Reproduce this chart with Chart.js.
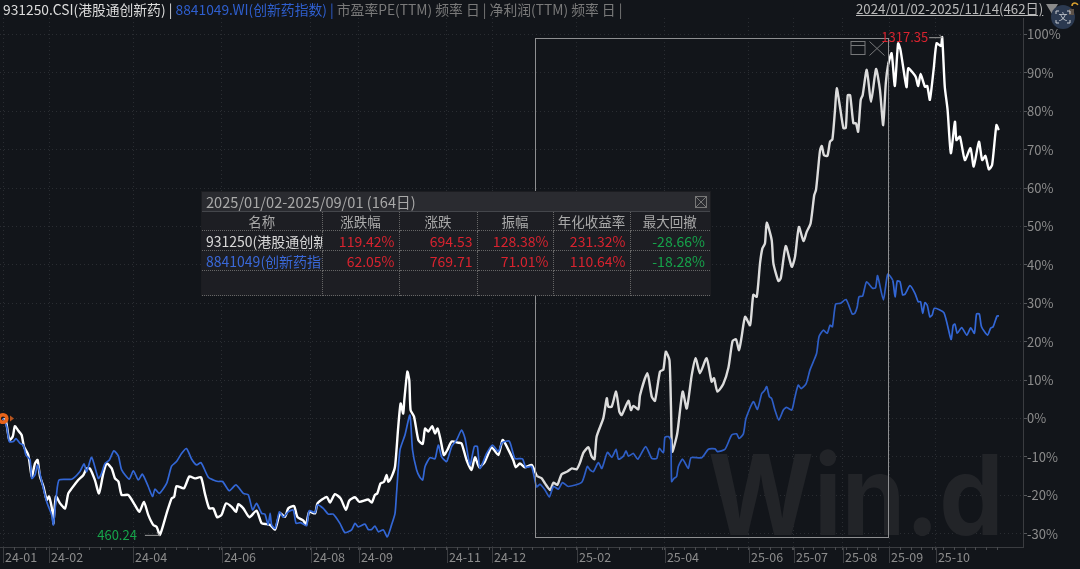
<!DOCTYPE html>
<html>
<head>
<meta charset="utf-8">
<title>931250 vs 8841049</title>
<script src="https://cdn.jsdelivr.net/npm/chart.js@4"></script>
<style>
  html, body { margin: 0; padding: 0; background: #12151a; overflow: hidden; }
  body { width: 1080px; height: 569px; position: relative; font-family: "Noto Sans CJK SC", sans-serif; }
  canvas { position: absolute; left: 0; top: 0; }
  .head { position: absolute; top: -1px; line-height: 20px; white-space: nowrap; }
  #headLeft { left: 3px; font-size: 13.8px; color: #7a7a7a; }
  #headRight { left: 856px; font-size: 13.25px; color: #b9b9b9; text-decoration: underline; }
  #panel { position: absolute; left: 202px; top: 192px; width: 508px; height: 103px; background: #2a2b30; box-shadow: 0 0 0 1px #1c1d21; }
  #panelTitle { position: absolute; left: 4px; top: 0; font-size: 14.6px; line-height: 20px; color: #a9a9a9; }
  #panelClose { position: absolute; left: 493px; top: 4px; width: 10px; height: 10px; border: 1px solid #777; background:
    linear-gradient(45deg, transparent 47%, #777 47%, #777 53%, transparent 53%),
    linear-gradient(-45deg, transparent 47%, #777 47%, #777 53%, transparent 53%); }
  #panelTable { position: absolute; left: 0; top: 19px; width: 508px; height: 84px; border-collapse: collapse; table-layout: fixed; background: #1d1e23; font-size: 14px; }
  #panelTable td { padding: 0 4px 0 4px; border-right: 1px dotted #666; border-bottom: 1px dotted #666; overflow: hidden; white-space: nowrap; line-height: 18px; text-align: right; }
  #panelTable td:last-child { border-right: none; padding-right: 5px; }
  #panelTable tr:first-child td { border-top: 1px solid #44464b; color: #a9a9a9; text-align: center; font-size: 13.5px; }
  #panelTable td.name { text-align: left; padding-right: 0; text-overflow: clip; }
</style>
</head>
<body>
<canvas id="chart" width="1080" height="569"></canvas>
<div class="head" id="headLeft"></div>
<div class="head" id="headRight"></div>
<div id="panel">
  <div id="panelTitle"></div>
  <div id="panelClose"></div>
  <table id="panelTable"></table>
</div>
<script>
// ====== DATA ======
const whiteDays = [0,1.4,2.9,4.5,5.5,7.1,8.6,9.7,11.7,13.3,14.8,16,17.1,18.7,20.2,21.3,23,23.3,24.5,26.4,28.7,30.2,31.8,34.8,37.2,38.7,40.2,42.5,44.4,46.4,48,50.3,51.8,53.4,54.9,58,61,63.1,65.2,67.2,69.5,71.1,72.6,75.7,78,79.2,80.3,83.7,86.2,88.8,91.6,93.4,95.4,97.3,99.1,101.1,103.2,105.8,107.8,108.9,111.2,114,117.3,119.7,122,
  123.6,125.9,128.2,130.5,132,134.7,136.2,139,140.2,141.7,144.4,145.5,149.8,151.3,153.6,156.2,158.7,160.2,162.9,164.9,169,170.6,172.1,173.2,174.7,176.3,177.5,178.3,179.8,181.4,182.9,184,185.2,185.7,187.1,188,188.6,190.2,192.2,194.2,195.3,196.8,198.6,199.9,201.1,202.5,204,205.6,207.6,210.7,212.2,214.5,216.8,218.4,220.4,223,226.1,229.2,231.2,233.3,236.1,237.3,239.2,241.5,
  244.7,247,249.3,250.8,253.2,254.7,256.5,258.5,261.2,263.2,265.5,267,268.6,270.9,272.4,273.7,274.7,277.8,279.4,280.1,281.7,283.7,285.2,286.3,289.4,290.6,291.7,294,294.8,298.2,300.2,301.7,304,305.6,306.7,308.4,309.1,309.7,312,314.5,316.4,318.7,320.5,322.5,325.6,327.9,329,330.6,333.3,335.7,337.6,339.2,340.6,341.8,343.4,345.7,347.2,348.8,350.3,351.4,352.6,353.4,355.7,356.5,358.8,359.9,362.2,365,366.5,368.3,370.4,371.9,373.7,375.4,376.2,377.3,378.1,378.9,379.9,381.5,382.7,383.8,385,385.8,387.3,388.9,390,390.9,392,393.5,394.7,395.7,396.9,397.8,399.7,401.7,404,405.8,407.3,408.5,409.6,411.2,412.7,414.2,415.3,418.1,418.9,421.2,422.4,423.5,424.6,426.6,427.7,428.9,430.7,432,434,434.6,435.8,437.1,438.6,440.5,441.2,442.8,445.1,447.7,449.2,451.6,453.1,454.6,456.2,457.7,459.7,460.8];
const whiteValues = [0,-0.8,-5.6,-4.7,-2,-3.2,-4.3,-7.3,-9.5,-15.1,-11.7,-10.8,-15.1,-17.7,-21.2,-20.3,-24.7,-27.3,-20.3,-22.1,-23.4,-19.5,-18.2,-16,-14.7,-13,-13,-16,-19.5,-14.3,-11.7,-13,-15.6,-16.4,-19.9,-19.9,-22.5,-24.3,-21.7,-25.1,-27.7,-28.2,-30.3,-24.7,-20.8,-20.4,-17.6,-18.2,-15.1,-15.6,-15.3,-19.5,-23.4,-23.4,-25.7,-25.1,-22.1,-23,-24.3,-22.3,-23.4,-25.7,-24,-27.3,-27.5,
  -27.7,-28.9,-24.7,-25.6,-23.4,-22.8,-25.6,-26.6,-27.7,-24.3,-24.7,-22.1,-20.4,-21.9,-19.7,-20.8,-23.8,-21.4,-20.5,-21.7,-21.1,-21.9,-19.9,-19.5,-16.9,-16.5,-14.7,-16.5,-15.2,-12.5,-2.1,3.9,1.3,4.8,12.2,10,2.2,0.5,-5.6,-6.6,-2.6,-3.4,-2,-3.9,-2.6,-5.6,-9.5,-8.2,-6,-6.3,-6.5,-10.8,-13.4,-10.1,-12.7,-11.2,-7.5,-9.5,-5.6,-7.5,-10.8,-12.7,-11.7,-12.7,
  -12.1,-14.9,-15.6,-16.9,-18.6,-16.7,-17.3,-14.5,-13.8,-13,-13.2,-11.5,-8.9,-7.5,-9.9,-10.6,-4.7,0.1,5.3,3.1,3.1,7,1.8,0.9,4.6,2.2,3.3,2.4,6.1,11.8,5.7,4.6,12.2,12.8,17.4,15.2,3.1,-8.6,-3.9,7,2.6,11.3,15.7,11.8,15.7,9.6,10.5,7,9,13.3,20.2,20.6,17.8,21.3,26.5,24.3,32.2,31.7,40.4,44.3,45.6,51,46.5,40.4,35.8,36.5,44.9,39.5,42.1,49.9,46.2,48.6,50.8,58.2,59.5,65.6,69.9,71,68.6,68.4,72.1,72.7,80.3,86,81.2,75.6,75.7,84.2,84.2,76.9,76.9,74.7,83,84.2,90.8,82.5,91,85.6,76.4,87.3,92.1,95.1,86.6,97.7,96,86.3,91.2,89.9,88.9,86.6,89.7,86.4,86.6,83,91.2,97.7,97,99.3,86.4,80.4,69.1,77.3,72.5,73.4,67.3,70.4,65.6,72.1,67.3,68.4,64.9,66,76.4,75.1];
const blueDays = [0,1.7,2.9,4.8,6,7.9,9.4,10.6,12.5,13.3,14.8,16,17.9,20.2,22.5,23.3,24.8,26,31.8,35.6,37.5,38.7,41,44.1,45.3,47.2,49.2,51.3,53.4,54.9,58.4,60.3,62.6,64.5,67.2,69.2,70.3,72.3,75.7,78,80.3,82.6,84.9,87.3,89.6,91.6,95,97.3,99.6,101.6,104.7,107.8,111.2,113.5,115.5,117.3,119.7,121.2,122.7,123.6,124.3,125.9,127.9,129.7,132,134.3,135.6,137.7,140.5,141.7,144.4,145.5,148.2,150.5,152.8,155.9,158.2,161.3,162.9,164.4,167.5,169,170.6,172.1,173.7,176,177.8,179.8,181.4,182.1,183.7,186,188.3,189.5,191.4,192.9,194.2,195.3,197.6,199.9,201.4,203,205.3,207.6,209.9,212.2,213.8,216.1,218.1,219.5,220.7,223.8,226.5,229.2,231,234.3,236.9,240.4,241.9,244.6,246.9,248.5,250.8,252.8,254.7,257,258.9,261.6,267.8,270.4,271.7,273.2,275.5,277.1,279.7,281.7,283.7,284.8,287.1,288.3,289.4,291.7,293.7,297.4,300.2,302.5,303.7,305.6,306.3,307.9,309,309.4,310.5,311.7,312.5,314.5,317.1,318.4,323.3,326.4,329.5,330.6,334.1,337.2,339.5,340.6,342.6,343.8,347.2,349.1,351.1,352.3,353.4,354.6,355.7,357.2,359,361.1,362.6,365,366.5,368,369.3,371.6,373.4,375,376.5,377.6,379.6,381.4,382.7,383.8,385.3,387.6,390.1,393,394.2,395.3,396.1,397.8,399.6,402.4,403.8,404.7,407.4,409.4,411.7,412.8,413.8,415.1,416.3,417.4,419.7,422,423.5,424.6,425.6,426.6,427.7,428.9,430,431,435.4,438.7,439.7,440.5,441.6,443.6,446,447.8,449.5,450.5,451.8,452.8,455.6,457,458.2,460,460.9];
const blueValues = [0,-2.1,-6,-6,-5.2,-6.5,-6.9,-9.5,-10.8,-15.6,-14.7,-12.1,-16.4,-21.7,-25.1,-27.7,-19.5,-16,-15.8,-13.8,-11.8,-13.8,-10.1,-15.6,-14.7,-11.7,-10.8,-8.4,-9.8,-13.4,-15.8,-13.6,-16,-14.5,-17.7,-20.3,-18.4,-19.5,-16.9,-12.4,-11.2,-9.1,-7.8,-10.6,-12.1,-11.5,-15.3,-16,-16.4,-16.4,-18.8,-17.3,-19.5,-19.9,-23.8,-22.1,-24.7,-24.9,-27.7,-24.7,-27.7,-28.6,-24.3,-25.7,-24.3,-23.8,-27.3,-27.1,-27.9,-24,-24.5,-22.5,-23.4,-24.9,-24.9,-27.3,-29.7,-29,-27.3,-28.2,-27.5,-28.9,-28.9,-28,-29.5,-29,-30.8,-27.7,-24.7,-19.5,-8.2,-4.3,0.9,-8.2,-13.4,-15.3,-16,-12.5,-10.2,-10.5,-6.9,-10,-11.2,-7.3,-5.6,-3,-5.2,-12.1,-7.3,-7.3,-13,-9.1,-6.9,-8.6,-6.3,-5.9,-10.4,-10.5,-12.7,-12.5,-17.8,-17.1,-18.6,-20.4,-17.7,-18.4,-16.7,-17.7,-16.6,-12.5,-13.4,-13.8,-11.5,-13,-8.8,-10.1,-8,-10.6,-9.8,-8.4,-9.8,-9.1,-10.6,-7.3,-10.4,-10.4,-7.8,-8.9,-4.9,-4.7,-5.6,-16.4,-15.6,-15.1,-12.5,-10.6,-13,-10.2,-10.2,-8,-7.9,-8.6,-8,-4.3,-4,-5.2,-4,0,4.4,2.4,6.5,7.2,8.3,5.7,5.2,2.2,-0.4,2.2,2.9,2.2,5.7,8.7,7.8,9,12.6,14.8,17,21.3,23,22.2,24.3,23.9,29.8,30,31,27.2,27.4,29.1,31.7,31.9,35.6,33.9,34.1,37.2,30.9,37.6,36,31.7,35.8,35.6,32.2,32.4,34.6,32.6,30.4,30.4,27.4,30.2,29.5,26.5,27,28.7,27.6,20.6,24.3,24.6,22.2,23.7,21.7,23.6,22.2,27.2,27.2,23.9,21.7,23.5,23.9,26.7,26.7];

const xTickDays = [0,21.3,60.2,101.3,142.5,164.7,205.4,226.3,265.6,306.3,345.2,366,388.7,410,431.7];
const xTickLabels = ["24-01","24-02","24-04","24-06","24-08","24-09","24-11","24-12","25-02","25-04","25-06","25-07","25-08","25-09","25-10"];
const yTicks = [-30,-20,-10,0,10,20,30,40,50,60,70,80,90,100];

const selectionDays = [246.4, 409.5];
const selectionRange = [-30.8, 99.1];
const highPoint = { day: 434.6, value: 99.3, label: "1317.35" };
const lowPoint = { day: 72.6, value: -30.3, label: "460.24" };

const panelTitle = "2025/01/02-2025/09/01 (164日)";
const panelHeaders = ["名称","涨跌幅","涨跌","振幅","年化收益率","最大回撤"];
const whiteRow = ["931250(港股通创新药)","119.42%","694.53","128.38%","231.32%","-28.66%"];
const blueRow = ["8841049(创新药指数)","62.05%","769.71","71.01%","110.64%","-18.28%"];
// ==========================================

const FONT = '"Noto Sans CJK SC", sans-serif';
const WHITE = "#ffffff", WHITE_DIM = "#dcdcdc", BLUE = "#3367d6", BLUE_DIM = "#2e5ec6";
const RED = "#d8232f", GREEN = "#16a34a";

// header text
document.getElementById("headLeft").innerHTML =
  '<span style="color:#dcdcdc">931250.CSI(港股通创新药)</span> <span style="color:#dcdcdc">|</span> ' +
  '<span style="color:#2f5fcf">8841049.WI(创新药指数) |</span> 市盈率PE(TTM) 频率 日 | 净利润(TTM) 频率 日 |';
document.getElementById("headRight").textContent = "2024/01/02-2025/11/14(462日)";

// floating table
document.getElementById("panelTitle").textContent = panelTitle;
const colWidths = [120, 77, 78, 76, 77, 80];
const table = document.getElementById("panelTable");
table.innerHTML =
  "<colgroup>" + colWidths.map((w) => `<col style="width:${w}px">`).join("") + "</colgroup>" +
  "<tr style='height:19px'>" + panelHeaders.map((h) => `<td>${h}</td>`).join("") + "</tr>" +
  [whiteRow, blueRow].map((row, r) =>
    "<tr style='height:20px'>" + row.map((c, i) => {
      if (i === 0) return `<td class="name" style="color:${r === 0 ? "#d8d8d8" : "#3a68d8"}">${c}</td>`;
      return `<td style="color:${i === 5 ? GREEN : RED}">${c}</td>`;
    }).join("") + "</tr>").join("") +
  "<tr style='height:25px'>" + panelHeaders.map(() => "<td></td>").join("") + "</tr>";

const inSelection = (day) => day >= selectionDays[0] && day < selectionDays[1];

// everything the chart library has no element for
const overlayPlugin = {
  id: "overlay",
  beforeDatasetsDraw(chart) {
    const { ctx } = chart;
    ctx.save();
    ctx.fillStyle = "#222428";
    ctx.font = "700 111px Inter, sans-serif";
    ctx.textBaseline = "alphabetic";
    ctx.translate(708, 535);
    ctx.scale(0.92, 1);
    ctx.fillText("Win.d", 0, 0);
    ctx.restore();
  },
  afterDatasetsDraw(chart) {
    const { ctx, scales: { x, y } } = chart;
    ctx.save();

    // ticks on the date axis: short every 5 days, long at each label
    ctx.strokeStyle = "#4a4c50";
    ctx.lineWidth = 1;
    for (let d = 0; d <= 461; d += 5) {
      const px = Math.round(x.getPixelForValue(d)) + 0.5;
      ctx.beginPath();
      ctx.moveTo(px, y.bottom);
      ctx.lineTo(px, y.bottom + 3);
      ctx.stroke();
    }
    ctx.strokeStyle = "#3b3d41";
    xTickDays.forEach((d) => {
      const px = Math.round(x.getPixelForValue(d)) + 0.5;
      ctx.beginPath();
      ctx.moveTo(px, y.bottom);
      ctx.lineTo(px, y.bottom + 16);
      ctx.stroke();
    });

    // selection box
    const left = Math.round(x.getPixelForValue(selectionDays[0])) + 0.5;
    const right = Math.round(x.getPixelForValue(selectionDays[1])) + 0.5;
    const top = Math.round(y.getPixelForValue(selectionRange[1])) + 0.5;
    const bottom = Math.round(y.getPixelForValue(selectionRange[0])) + 0.5;
    ctx.strokeStyle = "#8e8f91";
    ctx.strokeRect(left, top, right - left, bottom - top);

    // window icons on the selection box
    ctx.strokeStyle = "#77787a";
    ctx.strokeRect(right - 37.5, top + 3, 14, 13);
    ctx.beginPath();
    ctx.moveTo(right - 37.5, top + 7);
    ctx.lineTo(right - 23.5, top + 7);
    ctx.moveTo(right - 19, top + 3);
    ctx.lineTo(right - 4, top + 17);
    ctx.moveTo(right - 4, top + 3);
    ctx.lineTo(right - 19, top + 17);
    ctx.stroke();

    // high and low marks
    ctx.font = "13px " + FONT;
    ctx.textBaseline = "middle";
    const hx = x.getPixelForValue(highPoint.day), hy = y.getPixelForValue(highPoint.value);
    ctx.fillStyle = RED;
    ctx.textAlign = "right";
    ctx.fillText(highPoint.label, hx - 14, hy);
    arrow(ctx, hx - 13, hx, hy);
    const lx = x.getPixelForValue(lowPoint.day), ly = y.getPixelForValue(lowPoint.value);
    ctx.fillStyle = GREEN;
    ctx.fillText(lowPoint.label, lx - 23, ly);
    arrow(ctx, lx - 15, lx, ly);

    // start marker
    const sx = x.getPixelForValue(0), sy = y.getPixelForValue(0);
    ctx.strokeStyle = "#e8641b";
    ctx.lineWidth = 3.5;
    ctx.beginPath();
    ctx.arc(sx, sy, 3.8, 0, Math.PI * 2);
    ctx.stroke();
    ctx.fillStyle = "#b8561f";
    ctx.beginPath();
    ctx.moveTo(sx + 7, sy - 3);
    ctx.lineTo(sx + 11, sy);
    ctx.lineTo(sx + 7, sy + 3);
    ctx.fill();

    // corner controls
    ctx.fillStyle = "#8a8a8a";
    ctx.beginPath();
    ctx.moveTo(1046, 4);
    ctx.lineTo(1058, 4);
    ctx.lineTo(1052, 14);
    ctx.fill();
    ctx.fillStyle = "#2b3950";
    ctx.beginPath();
    ctx.arc(1063, 17, 12, 0, Math.PI * 2);
    ctx.fill();
    ctx.fillStyle = "#5c5148";
    ctx.fillRect(1069, 9, 5, 6);
    ctx.strokeStyle = "#d9a02e";
    ctx.lineWidth = 1.5;
    ctx.beginPath();
    ctx.arc(1075, 6, 3, Math.PI, Math.PI * 1.9);
    ctx.stroke();
    ctx.strokeStyle = "#c8ccd2";
    ctx.lineWidth = 1;
    ctx.beginPath();
    [[1056, 11, 1, 1], [1070, 11, -1, 1], [1056, 23, 1, -1], [1070, 23, -1, -1]].forEach(([cx, cy, dx, dy]) => {
      ctx.moveTo(cx + 3 * dx, cy);
      ctx.lineTo(cx, cy);
      ctx.lineTo(cx, cy + 3 * dy);
    });
    ctx.stroke();
    ctx.fillStyle = "#c8ccd2";
    ctx.font = "9px " + FONT;
    ctx.textAlign = "center";
    ctx.fillText("文", 1063, 17);
    ctx.restore();
  },
};

function arrow(ctx, from, to, py) {
  ctx.save();
  ctx.strokeStyle = "#9a9a9a";
  ctx.lineWidth = 1;
  ctx.beginPath();
  ctx.moveTo(from, py + 0.5);
  ctx.lineTo(to, py + 0.5);
  ctx.moveTo(to - 3, py - 2.5);
  ctx.lineTo(to, py + 0.5);
  ctx.stroke();
  ctx.restore();
}

new Chart(document.getElementById("chart").getContext("2d"), {
  type: "line",
  data: {
    datasets: [
      {
        label: "8841049.WI",
        data: blueDays.map((d, i) => ({ x: d, y: blueValues[i] })),
        borderWidth: 1.7,
        borderColor: BLUE,
        segment: { borderColor: (c) => (inSelection(c.p0.parsed.x) ? BLUE_DIM : BLUE) },
        pointRadius: 0,
        tension: 0.2,
      },
      {
        label: "931250.CSI",
        data: whiteDays.map((d, i) => ({ x: d, y: whiteValues[i] })),
        borderWidth: 2.4,
        borderColor: WHITE,
        segment: { borderColor: (c) => (inSelection(c.p0.parsed.x) ? WHITE_DIM : WHITE) },
        pointRadius: 0,
        tension: 0.2,
      },
    ],
  },
  options: {
    responsive: false,
    animation: false,
    layout: { padding: { left: 0, right: 0, top: 18, bottom: 0 } },
    plugins: { legend: { display: false }, tooltip: { enabled: false } },
    scales: {
      x: {
        type: "linear",
        min: -1.4,
        max: 472,
        afterBuildTicks: (s) => { s.ticks = xTickDays.map((v) => ({ value: v })); },
        afterFit: (s) => { s.height = 22; },
        grid: { color: "#2a2d32", tickColor: "#4a4c50", tickLength: 3 },
        border: { color: "#3a3c40", dash: [1, 3] },
        ticks: {
          autoSkip: false,
          maxRotation: 0,
          align: "start",
          padding: 0,
          labelOffset: 2,
          color: "#8c8c8c",
          font: { family: FONT, size: 12.5 },
          callback: (v, i) => xTickLabels[i],
        },
      },
      y: {
        position: "right",
        min: -33.46,
        max: 104.3,
        afterBuildTicks: (s) => { s.ticks = yTicks.map((v) => ({ value: v })); },
        afterFit: (s) => { s.width = 57; },
        grid: { color: "#2a2d32", tickColor: "#55575b", tickLength: 4 },
        border: { color: "#3a3c40", dash: [1, 3] },
        ticks: {
          padding: 0,
          color: "#8c8c8c",
          font: { family: FONT, size: 13 },
          callback: (v) => v + "%",
        },
      },
    },
  },
  plugins: [overlayPlugin],
});
</script>
</body>
</html>
